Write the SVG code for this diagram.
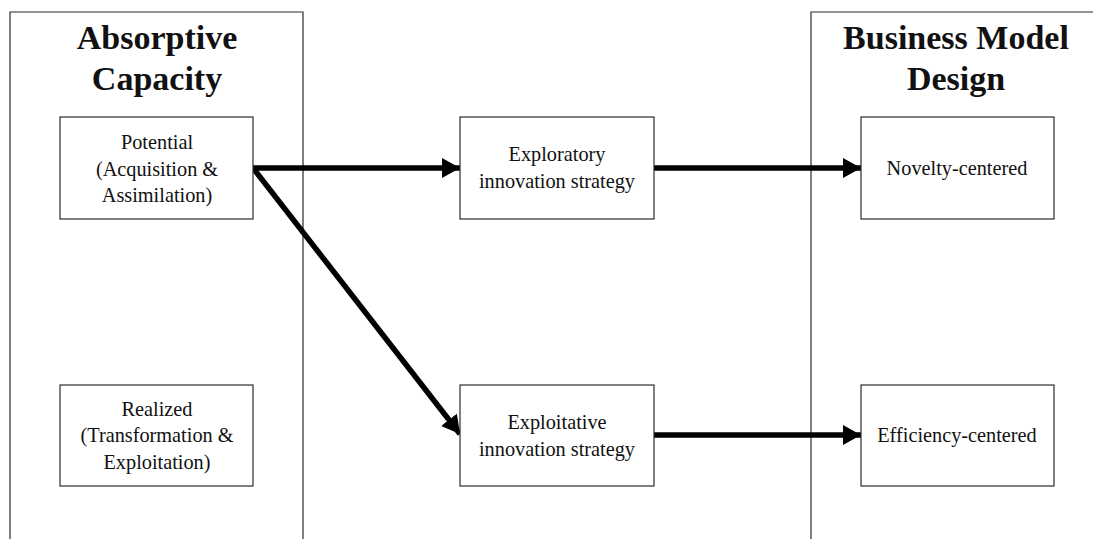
<svg xmlns="http://www.w3.org/2000/svg" width="1093" height="539" viewBox="0 0 1093 539">
  <style>
    .panel { fill: none; stroke: #2b2b2b; stroke-width: 1.2; }
    .box { fill: #ffffff; stroke: #2b2b2b; stroke-width: 1.2; }
    .title { font-family: "Liberation Serif", "Times New Roman", serif; font-weight: bold; font-size: 34px; fill: #111; text-anchor: middle; }
    .label { font-family: "Liberation Serif", "Times New Roman", serif; font-size: 20.3px; fill: #111; text-anchor: middle; }
    .conn { stroke: #000; stroke-width: 5.5; fill: none; }
  </style>
  <defs>
    <marker id="head" markerUnits="userSpaceOnUse" markerWidth="20" markerHeight="22" refX="18" refY="10" orient="auto">
      <path d="M0,0 L18,10 L0,20 Z" fill="#000"/>
    </marker>
  </defs>
  <rect width="1093" height="539" fill="#ffffff"/>

  <!-- outer panels -->
  <g id="panel-absorptive">
    <path class="panel" d="M10,545 V12 H303 V545"/>
    <text class="title" x="157" y="49">Absorptive</text>
    <text class="title" x="157" y="90">Capacity</text>
  </g>
  <g id="panel-bmd">
    <path class="panel" d="M811,545 V12 H1102 V545"/>
    <text class="title" x="956" y="49">Business Model</text>
    <text class="title" x="956" y="90">Design</text>
  </g>

  <!-- connectors -->
  <g id="connectors">
    <line class="conn" x1="253" y1="168" x2="460" y2="168" marker-end="url(#head)"/>
    <line class="conn" x1="253" y1="168" x2="460" y2="434" marker-end="url(#head)"/>
    <line class="conn" x1="654" y1="168" x2="861" y2="168" marker-end="url(#head)"/>
    <line class="conn" x1="654" y1="435" x2="861" y2="435" marker-end="url(#head)"/>
  </g>

  <!-- nodes -->
  <g id="potential">
    <rect class="box" x="60" y="117" width="193" height="102"/>
    <text class="label" x="157" y="149">Potential</text>
    <text class="label" x="157" y="176">(Acquisition &amp;</text>
    <text class="label" x="157" y="202">Assimilation)</text>
  </g>
  <g id="realized">
    <rect class="box" x="60" y="385" width="193" height="101"/>
    <text class="label" x="157" y="416">Realized</text>
    <text class="label" x="157" y="442">(Transformation &amp;</text>
    <text class="label" x="157" y="469">Exploitation)</text>
  </g>
  <g id="exploratory">
    <rect class="box" x="460" y="117" width="194" height="102"/>
    <text class="label" x="557" y="161">Exploratory</text>
    <text class="label" x="557" y="188">innovation strategy</text>
  </g>
  <g id="exploitative">
    <rect class="box" x="460" y="385" width="194" height="101"/>
    <text class="label" x="557" y="429">Exploitative</text>
    <text class="label" x="557" y="456">innovation strategy</text>
  </g>
  <g id="novelty">
    <rect class="box" x="861" y="117" width="193" height="102"/>
    <text class="label" x="957" y="175">Novelty-centered</text>
  </g>
  <g id="efficiency">
    <rect class="box" x="861" y="385" width="193" height="101"/>
    <text class="label" x="957" y="442">Efficiency-centered</text>
  </g>
</svg>
